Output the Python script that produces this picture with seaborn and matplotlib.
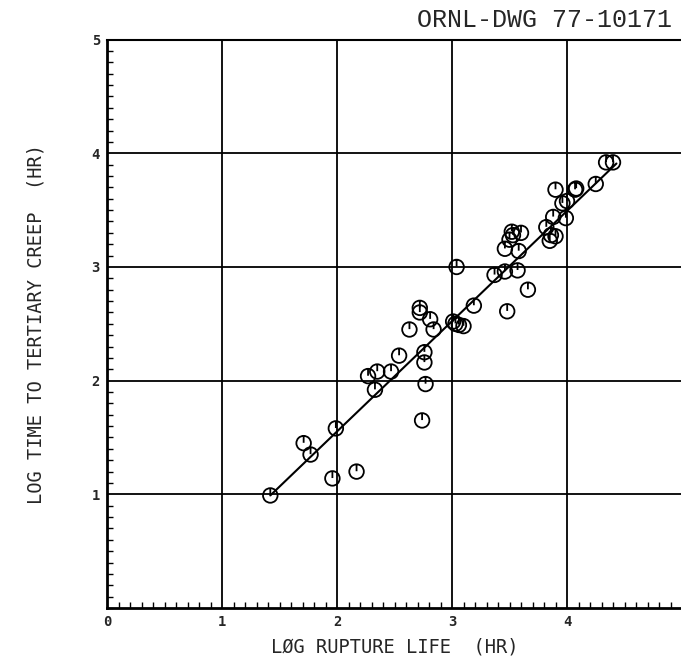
import numpy as np
import pandas as pd
import matplotlib
matplotlib.use("Agg")
import matplotlib.pyplot as plt
from matplotlib.path import Path
from matplotlib.ticker import MultipleLocator
import seaborn as sns

# ---- data ----
log_rupture_life = [1.42, 1.71, 1.77, 1.99, 1.96, 2.17, 2.27, 2.35, 2.33, 2.47,
                    2.54, 2.63, 2.72, 2.72, 2.81, 2.84, 2.76, 2.76, 2.77, 2.74,
                    3.01, 3.03, 3.06, 3.10, 3.04, 3.19, 3.48, 3.66, 3.37, 3.46,
                    3.57, 3.46, 3.58, 3.50, 3.53, 3.52, 3.60, 3.82, 3.85, 3.86,
                    3.90, 3.88, 3.99, 3.96, 4.00, 3.90, 4.08, 4.07, 4.25, 4.34,
                    4.40]
log_tertiary = [0.99, 1.45, 1.35, 1.58, 1.14, 1.20, 2.04, 2.08, 1.92, 2.08,
                2.22, 2.45, 2.64, 2.60, 2.54, 2.45, 2.25, 2.16, 1.97, 1.65,
                2.52, 2.50, 2.49, 2.48, 3.00, 2.66, 2.61, 2.80, 2.93, 2.96,
                2.97, 3.16, 3.14, 3.24, 3.28, 3.31, 3.30, 3.35, 3.23, 3.28,
                3.27, 3.44, 3.43, 3.56, 3.58, 3.68, 3.69, 3.68, 3.73, 3.92,
                3.92]
fit_x = [1.42, 4.43]
fit_y = [0.99, 3.91]

x_ticks = [0, 1, 2, 3, 4]
y_ticks = [1, 2, 3, 4, 5]
x_ticklabels = ["0", "1", "2", "3", "4"]
y_ticklabels = ["1", "2", "3", "4", "5"]

pts = pd.DataFrame({"x": log_rupture_life, "y": log_tertiary})
fit = pd.DataFrame({"x": fit_x, "y": fit_y})

sns.set_theme(style="white")
plt.rcParams["font.family"] = ["DejaVu Sans Mono", "DejaVu Sans"]

fig = plt.figure(figsize=(6.81, 6.64), dpi=100)
ax = fig.add_axes([107 / 681, 56 / 664, 575 / 681, 568.4 / 664])

# circle marker with a small vertical stroke from the top to the centre
circ = Path.unit_circle()
stroke = Path([(0, 1), (0, 0.05)], [Path.MOVETO, Path.LINETO])
tick_circle = Path.make_compound_path(circ, stroke)

sns.lineplot(data=fit, x="x", y="y", ax=ax, color="black", linewidth=1.5,
             zorder=3)
sns.scatterplot(data=pts, x="x", y="y", ax=ax, marker=tick_circle, s=110,
                facecolor="none", edgecolor="black", linewidth=1.3, zorder=4)

ax.set_xlim(0, 5)
ax.set_ylim(0, 5)
ax.set_xticks(x_ticks)
ax.set_xticklabels(x_ticklabels, fontsize=10, fontweight="bold")
ax.set_yticks(y_ticks)
ax.set_yticklabels(y_ticklabels, fontsize=10, fontweight="bold")
ax.xaxis.set_minor_locator(MultipleLocator(0.1))
ax.yaxis.set_minor_locator(MultipleLocator(0.1))
ax.tick_params(which="major", direction="in", length=0, pad=5)
ax.tick_params(which="minor", direction="in", length=4, width=1,
               color="black", bottom=True, left=True)

ax.grid(True, which="major", color="black", linewidth=1.3)
ax.set_axisbelow(True)
for side in ["left", "bottom"]:
    ax.spines[side].set_color("black")
    ax.spines[side].set_linewidth(2)
ax.spines["top"].set_color("black")
ax.spines["top"].set_linewidth(1.5)
ax.spines["right"].set_visible(False)

ax.set_xlabel("LØG RUPTURE LIFE  (HR)", fontsize=13.5, labelpad=6)
ax.set_ylabel("LOG TIME TO TERTIARY CREEP  (HR)", fontsize=13.5, labelpad=33)

fig.text(672 / 681, 1 - 20 / 664, "ORNL-DWG 77-10171", ha="right",
         va="center", fontsize=18, family="Liberation Mono")

fig.savefig("out.png", dpi=100)
